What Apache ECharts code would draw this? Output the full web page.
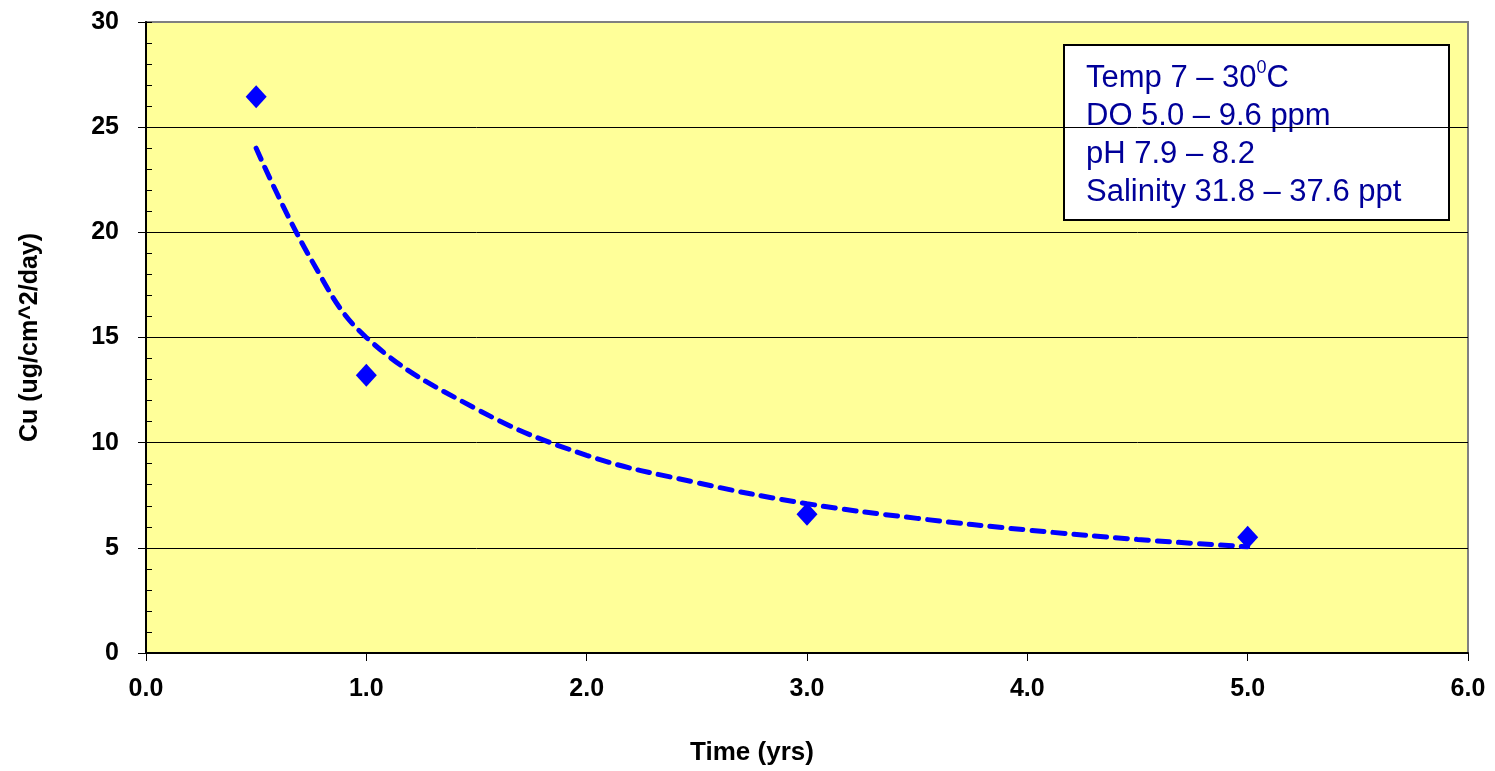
<!DOCTYPE html>
<html>
<head>
<meta charset="utf-8">
<script src="https://cdn.jsdelivr.net/npm/echarts@6/dist/echarts.min.js"></script>
<style>
  html, body { margin: 0; padding: 0; background: #fff; }
  #main { width: 1495px; height: 771px; }
</style>
</head>
<body>
<div id="main"></div>
<script>
// measured points
var times = [0.5, 1.0, 3.0, 5.0];
var copper = [26.45, 13.2, 6.6, 5.5];

// dashed trend curve
var trendTimes = [0.5, 0.75, 1.0, 1.5, 2.0, 2.5, 3.0, 3.5, 4.0, 4.5, 5.0];
var trendCopper = [24.0, 18.7, 15.0, 11.6, 9.4, 8.1, 7.1, 6.4, 5.85, 5.4, 5.05];

var xTicks = ['0.0', '1.0', '2.0', '3.0', '4.0', '5.0', '6.0'];

var noteLines = ['Temp 7 \u2013 30{sup|0}C', 'DO 5.0 \u2013 9.6 ppm', 'pH 7.9 \u2013 8.2', 'Salinity 31.8 \u2013 37.6 ppt'];

var font = 'Arial, "Liberation Sans", sans-serif';

var chart = echarts.init(document.getElementById('main'));

function pairs(xs, ys) {
    return xs.map(function (x, i) { return [x, ys[i]]; });
}

var option = {
    animation: false,
    backgroundColor: '#ffffff',
    grid: {
        left: 146, top: 22, width: 1322, height: 631,
        outerBoundsMode: 'none',
        containLabel: false,
        show: true,
        backgroundColor: '#FFFF99',
        borderColor: '#808080',
        borderWidth: 2
    },
    xAxis: {
        type: 'value',
        min: 0, max: 6, interval: 1,
        name: 'Time (yrs)',
        nameLocation: 'middle',
        nameGap: 87,
        nameTextStyle: {
            fontFamily: font, fontSize: 26, fontWeight: 'bold', color: '#000',
            padding: [0, 110, 0, 0]
        },
        axisLine: { show: true, onZero: false, lineStyle: { color: '#000', width: 2 } },
        axisTick: { show: true, length: 8, lineStyle: { color: '#000', width: 1 } },
        axisLabel: {
            margin: 24,
            fontFamily: font, fontSize: 25, fontWeight: 'bold', color: '#000',
            formatter: function (v) { return xTicks[Math.round(v)]; }
        },
        splitLine: { show: false }
    },
    yAxis: [{
        type: 'value',
        min: 0, max: 30, interval: 5,
        name: 'Cu (ug/cm^2/day)',
        nameLocation: 'middle',
        nameRotate: 90,
        nameGap: 103,
        nameTextStyle: { fontFamily: font, fontSize: 25, fontWeight: 'bold', color: '#000' },
        axisLine: { show: true, onZero: false, lineStyle: { color: '#000', width: 2 } },
        axisTick: { show: true, length: 8, lineStyle: { color: '#000', width: 1 } },
        axisLabel: { margin: 27, fontFamily: font, fontSize: 25, fontWeight: 'bold', color: '#000' },
        splitLine: {
            show: true,
            lineStyle: { color: ['#000', '#000', '#000', '#000', '#000', '#000', '#808080'], width: 1 }
        }
    }, {
        // minor ticks pointing into the plot
        type: 'value',
        min: 0, max: 30, interval: 1,
        position: 'left',
        axisLine: { show: false },
        axisTick: { show: true, inside: true, length: 6, lineStyle: { color: '#000', width: 1 } },
        axisLabel: { show: false },
        splitLine: { show: false }
    }],
    series: [{
        name: 'trend',
        type: 'line',
        data: pairs(trendTimes, trendCopper),
        smooth: 0.4,
        showSymbol: false,
        silent: true,
        z: 2,
        lineStyle: { color: '#0000FF', width: 5, type: [12, 9], cap: 'round', opacity: 1 }
    }, {
        name: 'Cu',
        type: 'scatter',
        data: pairs(times, copper),
        symbol: 'diamond',
        symbolSize: [21, 23],
        z: 3,
        itemStyle: { color: '#0000FF', opacity: 1 }
    }],
    graphic: [{
        type: 'group',
        left: 1063,
        top: 44,
        children: [{
            type: 'rect',
            shape: { x: 0, y: 0, width: 385, height: 175 },
            style: { fill: '#ffffff', stroke: '#000', lineWidth: 2 }
        }, {
            type: 'text',
            x: 22,
            y: 14,
            style: {
                text: noteLines.join('\n'),
                fill: '#000099',
                font: '31px ' + font,
                lineHeight: 38,
                rich: {
                    sup: { fontSize: 18, verticalAlign: 'top', padding: [0, 0, 12, 0], fill: '#000099', fontFamily: font }
                }
            }
        }]
    }]
};

chart.setOption(option);
</script>
</body>
</html>
